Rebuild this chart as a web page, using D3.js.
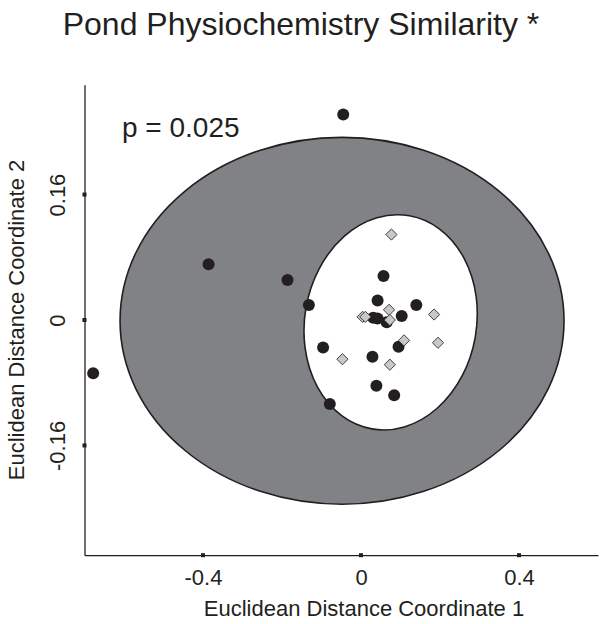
<!DOCTYPE html>
<html>
<head>
<meta charset="utf-8">
<script src="https://cdn.jsdelivr.net/npm/d3@7"></script>
<style>
  body { margin: 0; background: #fff; }
  text { font-family: "Liberation Sans", Arial, sans-serif; fill: #231f20; }
</style>
</head>
<body>
<svg id="chart" width="603" height="624"></svg>
<script>
// tick values / labels
const xTicks = [-0.4, 0, 0.4];
const xTickLabels = ['-0.4', '0', '0.4'];
const yTicks = [-0.16, 0, 0.16];
const yTickLabels = ['-0.16', '0', '0.16'];

// black circles (coord 1, coord 2)
const circleX = [-0.386, -0.186, -0.132, -0.096, -0.678, -0.045, 0.057, 0.042, 0.140,
  0.103, 0.031, 0.042, 0.065, 0.095, 0.029, 0.039, 0.084, -0.079];
const circleY = [0.071, 0.051, 0.019, -0.035, -0.068, 0.262, 0.056, 0.025, 0.019,
  0.005, 0.003, 0.002, -0.003, -0.034, -0.047, -0.084, -0.096, -0.107];

// grey diamonds
const diamondX = [0.077, 0.071, 0.073, 0.004, 0.011, 0.185, 0.109, 0.195, -0.047, 0.073];
const diamondY = [0.109, 0.013, 0.000, 0.004, 0.004, 0.007, -0.026, -0.029, -0.050, -0.057];

// ellipses: [cx, cy, rx, ry, rotation deg]
const outerEllipse = [-0.048, -0.001, 0.562, 0.234, 0];
const innerEllipse = [0.075, -0.003, 0.2175, 0.138, 10];

const svg = d3.select('#chart');

const x = d3.scaleLinear().domain([-0.7, 0.6]).range([84.5, 598]);
const y = d3.scaleLinear().domain([-0.3, 0.3]).range([555.2, 84.8]);

// title
svg.append('text')
  .attr('x', 301).attr('y', 35)
  .attr('text-anchor', 'middle')
  .style('font-size', '32px')
  .text('Pond Physiochemistry Similarity *');

// ellipses
function drawEllipse(e, fill) {
  const cx = x(e[0]), cy = y(e[1]);
  svg.append('ellipse')
    .attr('cx', cx).attr('cy', cy)
    .attr('rx', x(e[0] + e[2]) - cx)
    .attr('ry', cy - y(e[1] + e[3]))
    .attr('transform', `rotate(${e[4]},${cx},${cy})`)
    .attr('fill', fill)
    .attr('stroke', '#231f20')
    .attr('stroke-width', 1.6);
}
drawEllipse(outerEllipse, '#808285');
drawEllipse(innerEllipse, '#ffffff');

// x axis
const xAxis = svg.append('g')
  .attr('transform', `translate(0,${y(-0.3)})`)
  .call(d3.axisBottom(x).tickValues(xTicks)
    .tickFormat((d, i) => xTickLabels[i]).tickSize(0).tickPadding(14));
xAxis.select('.domain').attr('stroke', '#231f20').attr('stroke-width', 1.3);
xAxis.selectAll('text')
  .style('font-size', '22px')
  .style('font-family', '"Liberation Sans", Arial, sans-serif')
  .attr('fill', '#231f20');

// y axis
const yAxis = svg.append('g')
  .attr('transform', `translate(${x(-0.7)},0)`)
  .call(d3.axisLeft(y).tickValues(yTicks)
    .tickFormat((d, i) => yTickLabels[i]).tickSize(0));
yAxis.select('.domain').attr('stroke', '#231f20').attr('stroke-width', 1.3);
yAxis.selectAll('text')
  .attr('x', null).attr('dy', null)
  .attr('text-anchor', 'middle')
  .attr('transform', 'translate(-19.5,0) rotate(-90)')
  .style('font-size', '22px')
  .style('font-family', '"Liberation Sans", Arial, sans-serif')
  .attr('fill', '#231f20');

// square tick markers
svg.selectAll('rect.xtick')
  .data(xTicks).enter().append('rect')
  .attr('class', 'xtick')
  .attr('x', d => x(d) - 2).attr('y', y(-0.3) - 2)
  .attr('width', 4).attr('height', 4)
  .attr('fill', '#231f20');
svg.selectAll('rect.ytick')
  .data(yTicks).enter().append('rect')
  .attr('class', 'ytick')
  .attr('x', x(-0.7) - 2).attr('y', d => y(d) - 2)
  .attr('width', 4).attr('height', 4)
  .attr('fill', '#231f20');

// axis titles
svg.append('text')
  .attr('x', 364).attr('y', 616)
  .attr('text-anchor', 'middle')
  .style('font-size', '22px')
  .text('Euclidean Distance Coordinate 1');
svg.append('text')
  .attr('transform', `translate(23.5,320) rotate(-90)`)
  .attr('text-anchor', 'middle')
  .style('font-size', '22px')
  .text('Euclidean Distance Coordinate 2');

// p value
svg.append('text')
  .attr('x', 122).attr('y', 136.5)
  .style('font-size', '28px')
  .text('p = 0.025');

// points
const circles = circleX.map((v, i) => ({ x: v, y: circleY[i] }));
const diamonds = diamondX.map((v, i) => ({ x: v, y: diamondY[i] }));

svg.selectAll('circle.site')
  .data(circles).enter().append('circle')
  .attr('class', 'site')
  .attr('cx', d => x(d.x)).attr('cy', d => y(d.y))
  .attr('r', 6)
  .attr('fill', '#231f20');

const diamond = d3.symbol().type(d3.symbolDiamond2).size(80);
svg.selectAll('path.site')
  .data(diamonds).enter().append('path')
  .attr('class', 'site')
  .attr('d', diamond)
  .attr('transform', d => `translate(${x(d.x)},${y(d.y)})`)
  .attr('fill', '#c7c8ca')
  .attr('stroke', '#414042')
  .attr('stroke-width', 1);
</script>
</body>
</html>
